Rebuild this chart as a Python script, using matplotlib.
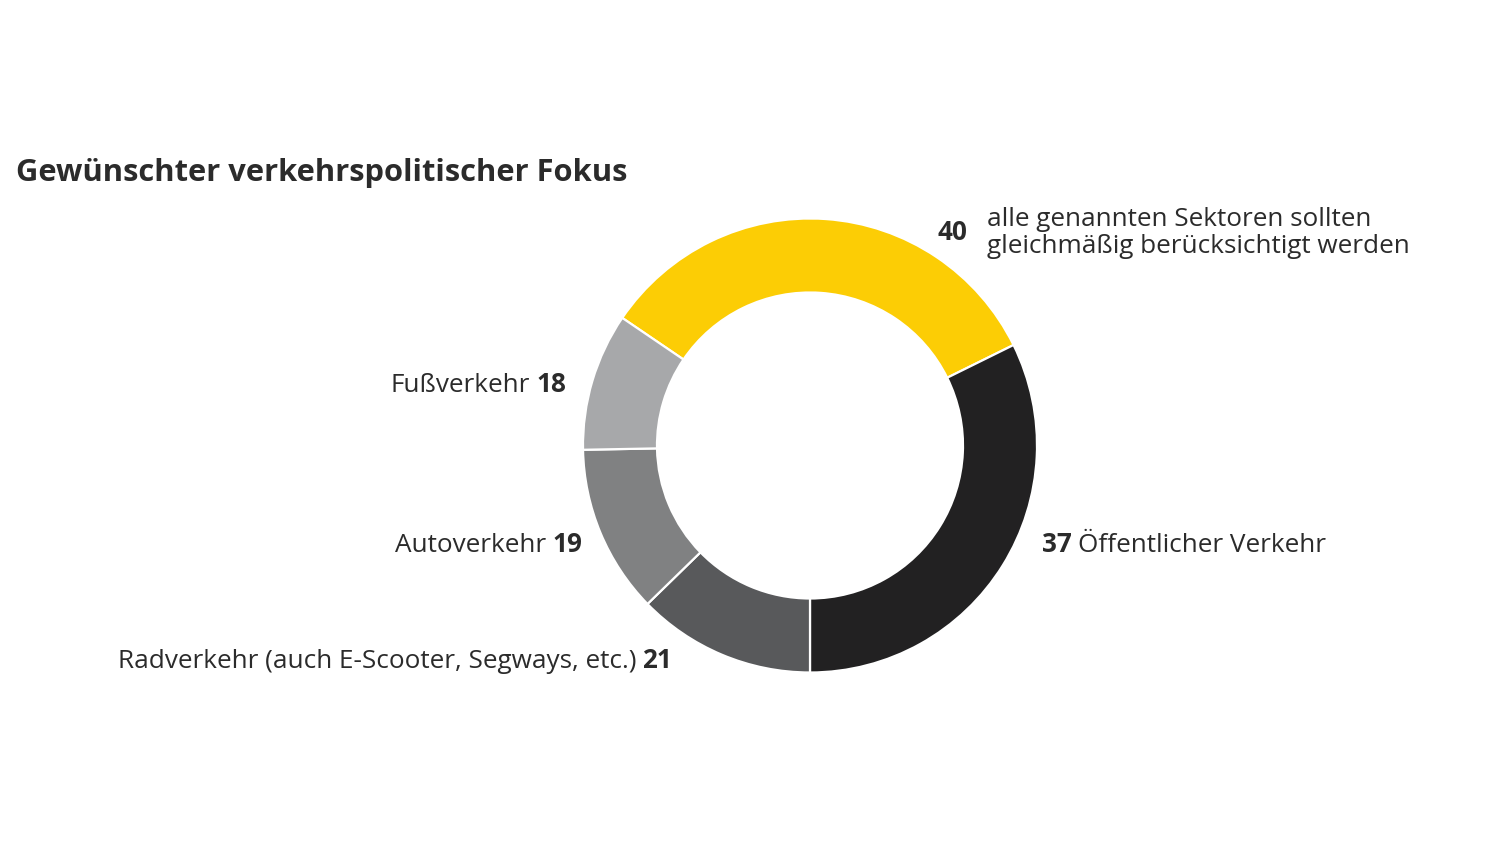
import matplotlib
matplotlib.use("Agg")
import matplotlib.pyplot as plt

plt.rcParams["font.family"] = ["Open Sans", "DejaVu Sans"]

# Data
categories = [
    "alle genannten Sektoren sollten\ngleichmäßig berücksichtigt werden",
    "Öffentlicher Verkehr",
    "Radverkehr (auch E-Scooter, Segways, etc.)",
    "Autoverkehr",
    "Fußverkehr",
]
values = [40, 37, 21, 19, 18]
# slice sizes as drawn in the ring (percent of the circle)
shares = [33.2, 32.3, 12.7, 12.0, 9.8]
colors = ["#FCCD05", "#222122", "#58595B", "#808182", "#A7A8AA"]

TEXT = "#2b2b2b"
W, H = 1500, 844

fig = plt.figure(figsize=(15, 8.44), dpi=100)
ax = fig.add_axes([0, 0, 1, 1])

cx, cy = 810, 445.5
ax.pie(
    shares,
    colors=colors,
    startangle=145.8,
    counterclock=False,
    radius=227,
    center=(cx, H - cy),
    wedgeprops=dict(width=74, edgecolor="white", linewidth=1.6),
)
ax.set_aspect("auto")
ax.set_xlim(0, W)
ax.set_ylim(0, H)
ax.axis("off")


def px(x, y):
    return x, H - y


fs = 18.8

# title
ax.text(*px(16, 181), "Gewünschter verkehrspolitischer Fokus", fontsize=22.2,
        fontweight="bold", color=TEXT, ha="left", va="baseline")


def label_left(x_end, y_base, name, val):
    num = ax.text(*px(x_end, y_base), str(val), fontsize=fs, fontweight="bold",
                  color=TEXT, ha="right", va="baseline")
    ax.annotate(name, xy=(0, 0), xycoords=num, xytext=(-6, 0),
                textcoords="offset pixels", fontsize=fs, color=TEXT,
                ha="right", va="bottom")


def label_right(x_start, y_base, name, val):
    num = ax.text(*px(x_start, y_base), str(val), fontsize=fs, fontweight="bold",
                  color=TEXT, ha="left", va="baseline")
    ax.annotate(name, xy=(1, 0), xycoords=num, xytext=(6, 0),
                textcoords="offset pixels", fontsize=fs, color=TEXT,
                ha="left", va="bottom")


label_left(566, 392, categories[4], values[4])
label_left(582, 552, categories[3], values[3])
label_left(672, 668, categories[2], values[2])
label_right(1042, 552, categories[1], values[1])

# top label: bold value plus two lines
ax.text(*px(938, 240), str(values[0]), fontsize=fs, fontweight="bold",
        color=TEXT, ha="left", va="baseline")
for i, line in enumerate(categories[0].split("\n")):
    ax.text(*px(987, 226 + 27 * i), line, fontsize=fs, color=TEXT,
            ha="left", va="baseline")

fig.savefig("out.png", dpi=100, facecolor="white")
